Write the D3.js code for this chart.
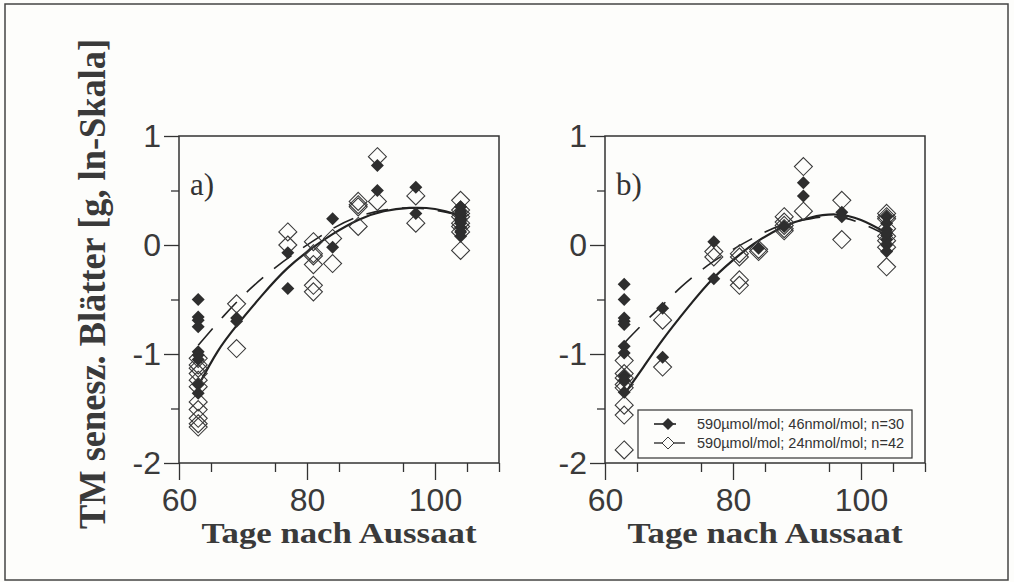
<!DOCTYPE html>
<html>
<head>
<meta charset="utf-8">
<script src="https://cdn.jsdelivr.net/npm/d3@7"></script>
<style>
  html, body { margin: 0; padding: 0; background: #fdfdfb; }
  svg { display: block; }
</style>
</head>
<body>
<svg id="chart" width="1014" height="582"></svg>
<script>
// --- data (days after sowing, ln of dry mass) ---
const xTicks = [60, 80, 100];
const yTicks = [-2, -1, 0, 1];

const legendLabels = [
    '590µmol/mol; 46nmol/mol; n=30',
    '590µmol/mol; 24nmol/mol; n=42'
];

// panel a) filled = 46 nmol/mol, open = 24 nmol/mol
const aFilled = [
    [63, -0.50], [63, -0.66], [63, -0.69], [63, -0.75], [63, -0.98], [63, -1.01],
    [63, -1.05], [63, -1.28], [63, -1.36],
    [69, -0.67], [69, -0.70],
    [77, -0.07], [77, -0.40],
    [84, 0.24], [84, -0.02],
    [91, 0.73], [91, 0.50],
    [97, 0.53], [97, 0.29],
    [104, 0.35], [104, 0.31], [104, 0.27], [104, 0.24], [104, 0.20], [104, 0.16],
    [104, 0.12], [104, 0.08], [104, 0.29], [104, 0.22]
];
const aOpen = [
    [63, -1.04], [63, -1.13], [63, -1.18], [63, -1.24], [63, -1.30], [63, -1.44],
    [63, -1.51], [63, -1.59], [63, -1.64], [63, -1.67], [63, -1.10],
    [69, -0.54], [69, -0.95],
    [77, 0.12], [77, 0.00],
    [81, 0.03], [81, -0.08], [81, -0.10], [81, -0.18], [81, -0.37], [81, -0.43],
    [84, 0.06], [84, -0.17],
    [88, 0.40], [88, 0.37], [88, 0.35], [88, 0.17],
    [91, 0.81], [91, 0.40],
    [97, 0.45], [97, 0.20],
    [104, 0.41], [104, 0.32], [104, 0.26], [104, 0.20], [104, 0.12], [104, -0.05],
    [104, 0.29], [104, 0.17]
];
const aCurveOpen = [
    [63.3, -1.26], [66, -0.98], [69, -0.74], [73, -0.46], [77, -0.21], [81, -0.02],
    [84, 0.10], [88, 0.23], [92, 0.31], [96, 0.34], [100, 0.33], [104, 0.27]
];
const aCurveFilled = [
    [63, -0.92], [67, -0.65], [71, -0.41], [75, -0.21], [79, -0.04], [84, 0.15],
    [88, 0.26], [92, 0.32], [96, 0.34], [100, 0.32], [104, 0.27]
];

// panel b)
const bFilled = [
    [63, -0.36], [63, -0.50], [63, -0.67], [63, -0.70], [63, -0.73], [63, -0.93],
    [63, -0.99], [63, -1.20], [63, -1.24], [63, -1.35],
    [69, -0.58], [69, -1.03],
    [77, 0.03], [77, -0.31],
    [84, -0.03],
    [88, 0.17],
    [91, 0.57], [91, 0.45],
    [97, 0.30], [97, 0.26],
    [104, 0.26], [104, 0.20], [104, 0.14], [104, 0.09], [104, 0.05], [104, 0.00],
    [104, -0.06], [104, 0.11]
];
const bOpen = [
    [63, -1.06], [63, -1.18], [63, -1.22], [63, -1.28], [63, -1.31], [63, -1.47],
    [63, -1.56], [63, -1.88],
    [69, -0.69], [69, -1.12],
    [77, -0.06], [77, -0.11],
    [81, -0.08], [81, -0.11], [81, -0.32], [81, -0.37],
    [84, -0.06], [84, -0.04],
    [88, 0.26], [88, 0.21], [88, 0.18], [88, 0.15], [88, 0.13],
    [91, 0.72], [91, 0.31],
    [97, 0.41], [97, 0.05],
    [104, 0.29], [104, 0.24], [104, 0.15], [104, 0.08], [104, -0.02], [104, -0.20],
    [104, 0.26], [104, 0.04]
];
const bCurveOpen = [
    [63.5, -1.33], [66, -1.12], [69, -0.87], [73, -0.57], [77, -0.30], [81, -0.09],
    [84, 0.04], [88, 0.17], [92, 0.25], [96, 0.28], [100, 0.23], [104, 0.11]
];
const bCurveFilled = [
    [63, -0.90], [66, -0.72], [69, -0.55], [72, -0.38], [76, -0.19], [80, -0.04],
    [84, 0.09], [88, 0.19], [92, 0.24], [96, 0.26], [100, 0.20], [104, 0.09]
];

const ink = '#333';
const svg = d3.select('#chart');

// scanned page frame
svg.append('rect')
    .attr('x', 5).attr('y', 4)
    .attr('width', 1003).attr('height', 576)
    .attr('fill', 'none')
    .attr('stroke', '#444')
    .attr('stroke-width', 1.5);

const plotTop = 136, plotBottom = 463;

const diamond = r => `M0,${-r}L${r},0L0,${r}L${-r},0Z`;

const panel = (left, right, filled, open, curveOpen, curveFilled, tag, withLegend) => {
    const x = d3.scaleLinear().domain([60, 110]).range([left, right]);
    const y = d3.scaleLinear().domain([-2, 1]).range([plotBottom, plotTop]);
    const g = svg.append('g');

    // minor ticks
    g.append('g')
        .attr('transform', `translate(0,${plotBottom})`)
        .call(d3.axisBottom(x).tickValues(d3.range(65, 110, 10)).tickSize(9).tickFormat(''))
        .call(s => s.select('.domain').remove());
    g.append('g')
        .attr('transform', `translate(${left},0)`)
        .call(d3.axisLeft(y).tickValues([-1.5, -0.5, 0.5]).tickSize(8).tickFormat(''))
        .call(s => s.select('.domain').remove());

    // major ticks + labels
    const xa = g.append('g')
        .attr('transform', `translate(0,${plotBottom})`)
        .call(d3.axisBottom(x).tickValues(xTicks.concat([110])).tickSize(17).tickPadding(8)
            .tickFormat(d => (xTicks.includes(d) ? String(d) : '')));
    xa.select('.domain').remove();
    xa.selectAll('.tick line').filter(d => d === 110).attr('y2', 9);

    const ya = g.append('g')
        .attr('transform', `translate(${left},0)`)
        .call(d3.axisLeft(y).tickValues(yTicks).tickSize(15).tickPadding(3)
            .tickFormat(d => String(d)));
    ya.select('.domain').remove();

    g.selectAll('.tick line').attr('stroke', ink).attr('stroke-width', 1.3);
    g.selectAll('.tick text')
        .attr('fill', '#3a3a3a')
        .style('font-family', '"Liberation Sans", Arial, sans-serif')
        .style('font-size', '32px');

    // plot box
    g.append('rect')
        .attr('x', left).attr('y', plotTop)
        .attr('width', right - left).attr('height', plotBottom - plotTop)
        .attr('fill', 'none')
        .attr('stroke', ink)
        .attr('stroke-width', 1.5);

    // fitted curves
    const line = d3.line()
        .x(d => x(d[0]))
        .y(d => y(d[1]))
        .curve(d3.curveNatural);
    g.append('path')
        .attr('d', line(curveOpen))
        .attr('fill', 'none')
        .attr('stroke', '#222')
        .attr('stroke-width', 2.2);
    g.append('path')
        .attr('d', line(curveFilled))
        .attr('fill', 'none')
        .attr('stroke', '#222')
        .attr('stroke-width', 1.6)
        .attr('stroke-dasharray', '22,14');

    // markers: open first, filled on top
    g.append('g').selectAll('path')
        .data(open)
        .join('path')
        .attr('transform', d => `translate(${x(d[0])},${y(d[1])})`)
        .attr('d', diamond(9))
        .attr('fill', 'none')
        .attr('stroke', '#3a3a3a')
        .attr('stroke-width', 1.1);
    g.append('g').selectAll('path')
        .data(filled)
        .join('path')
        .attr('transform', d => `translate(${x(d[0])},${y(d[1])})`)
        .attr('d', diamond(6.5))
        .attr('fill', '#2e2e2e');

    g.append('text')
        .attr('x', left + 11)
        .attr('y', 195)
        .attr('fill', '#333')
        .style('font-family', '"Liberation Serif", "Times New Roman", serif')
        .style('font-size', '31px')
        .text(tag);

    g.append('text')
        .attr('x', (left + right) / 2)
        .attr('y', 543)
        .attr('text-anchor', 'middle')
        .attr('textLength', 275)
        .attr('lengthAdjust', 'spacingAndGlyphs')
        .attr('fill', '#3a3a3a')
        .style('font-family', '"Liberation Serif", "Times New Roman", serif')
        .style('font-weight', 'bold')
        .style('font-size', '29px')
        .text('Tage nach Aussaat');

    if (withLegend) {
        const lg = g.append('g');
        lg.append('rect')
            .attr('x', 638).attr('y', 410)
            .attr('width', 274).attr('height', 48)
            .attr('fill', '#fdfdfb')
            .attr('stroke', ink)
            .attr('stroke-width', 1.2);
        const rows = [424, 443];
        lg.append('line')
            .attr('x1', 654).attr('x2', 676).attr('y1', rows[0]).attr('y2', rows[0])
            .attr('stroke', '#222').attr('stroke-width', 1.6);
        lg.append('path')
            .attr('transform', `translate(668,${rows[0]})`)
            .attr('d', diamond(6))
            .attr('fill', '#2e2e2e');
        lg.append('line')
            .attr('x1', 654).attr('x2', 685).attr('y1', rows[1]).attr('y2', rows[1])
            .attr('stroke', '#222').attr('stroke-width', 1.3);
        lg.append('path')
            .attr('transform', `translate(668,${rows[1]})`)
            .attr('d', diamond(6))
            .attr('fill', '#fdfdfb')
            .attr('stroke', '#3a3a3a')
            .attr('stroke-width', 1);
        lg.selectAll('text.lab')
            .data(legendLabels)
            .join('text')
            .attr('class', 'lab')
            .attr('x', 697)
            .attr('y', (d, i) => rows[i] + 5)
            .attr('fill', '#333')
            .style('font-family', '"Liberation Sans", Arial, sans-serif')
            .style('font-size', '14.5px')
            .text(d => d);
    }
};

panel(179, 499, aFilled, aOpen, aCurveOpen, aCurveFilled, 'a)', false);
panel(605, 925, bFilled, bOpen, bCurveOpen, bCurveFilled, 'b)', true);

// shared y title
svg.append('text')
    .attr('transform', 'translate(105,284) rotate(-90)')
    .attr('text-anchor', 'middle')
    .attr('textLength', 490)
    .attr('lengthAdjust', 'spacingAndGlyphs')
    .attr('fill', '#3a3a3a')
    .style('font-family', '"Liberation Serif", "Times New Roman", serif')
    .style('font-weight', 'bold')
    .style('font-size', '37px')
    .text('TM senesz. Blätter [g, ln-Skala]');
</script>
</body>
</html>
